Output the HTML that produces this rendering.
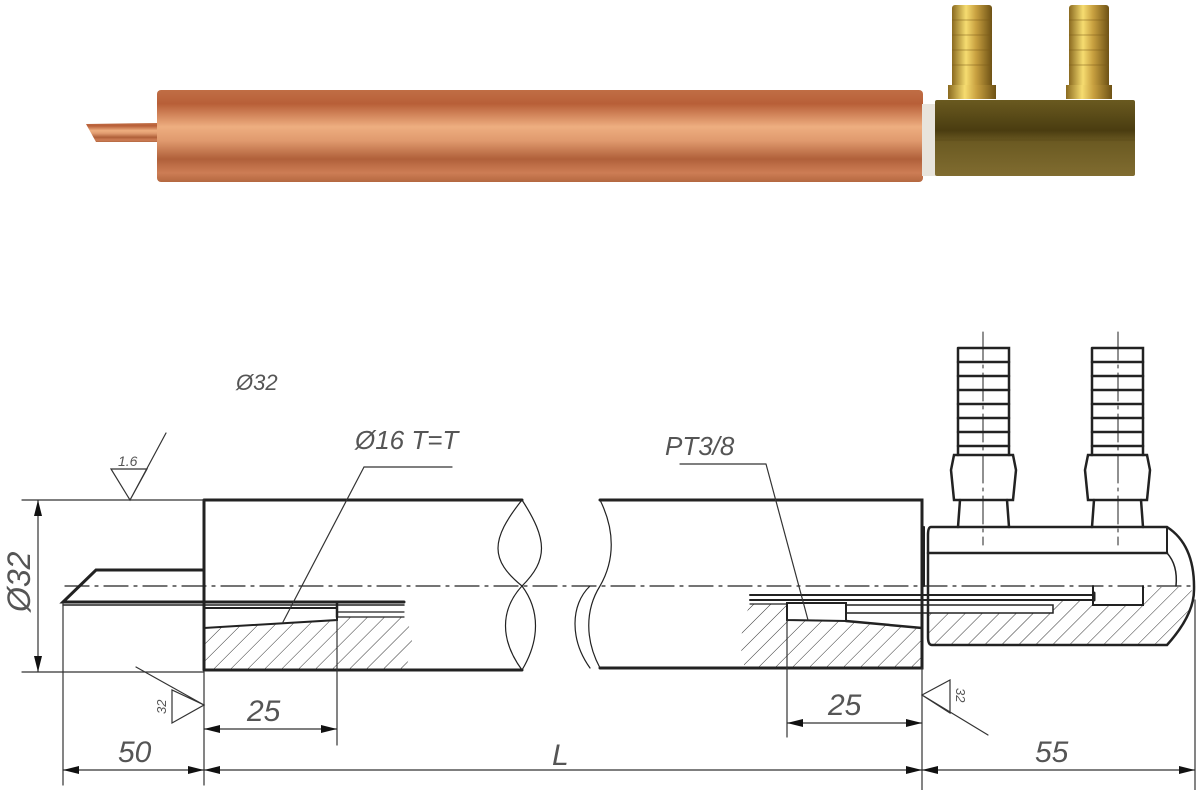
<!DOCTYPE html>
<html><head><meta charset="utf-8"><style>
html,body{margin:0;padding:0;background:#fff;}
svg{display:block;}
text{font-family:"Liberation Sans",sans-serif;font-style:italic;fill:#555;}
</style></head><body>
<svg width="1200" height="790" viewBox="0 0 1200 790" xmlns="http://www.w3.org/2000/svg">
<defs>
<linearGradient id="cu" x1="0" y1="0" x2="0" y2="1">
<stop offset="0" stop-color="#c06e45"/><stop offset="0.15" stop-color="#b85f38"/>
<stop offset="0.4" stop-color="#eeae80"/><stop offset="0.55" stop-color="#e09a6e"/>
<stop offset="0.75" stop-color="#b0603a"/><stop offset="0.9" stop-color="#cd7d55"/><stop offset="1" stop-color="#b46840"/>
</linearGradient>
<linearGradient id="br" x1="0" y1="0" x2="0" y2="1">
<stop offset="0" stop-color="#6a5a20"/><stop offset="0.4" stop-color="#4a3c10"/>
<stop offset="0.55" stop-color="#6b5a22"/><stop offset="1" stop-color="#806c30"/>
</linearGradient>
<linearGradient id="ft" x1="0" y1="0" x2="1" y2="0">
<stop offset="0" stop-color="#8a6a20"/><stop offset="0.35" stop-color="#f6dc70"/>
<stop offset="0.6" stop-color="#c8a040"/><stop offset="1" stop-color="#6e5215"/>
</linearGradient>
<pattern id="h" patternUnits="userSpaceOnUse" width="12" height="12" patternTransform="rotate(45)">
<line x1="0" y1="0" x2="0" y2="12" stroke="#333" stroke-width="1"/>
</pattern>
</defs>

<!-- Photo -->
<path d="M86,124 L158,123 L158,142 L96,142 Z" fill="url(#cu)"/>
<rect x="157" y="90" width="766" height="92" rx="4" fill="url(#cu)"/>
<rect x="922" y="104" width="14" height="72" fill="#e8e4dc"/>
<rect x="952" y="5" width="40" height="85" rx="3" fill="url(#ft)"/>
<rect x="948" y="85" width="48" height="14" fill="url(#ft)"/>
<rect x="1069" y="5" width="40" height="85" rx="3" fill="url(#ft)"/>
<rect x="1066" y="85" width="46" height="14" fill="url(#ft)"/>
<g stroke="#7a5a18" stroke-width="1" opacity="0.5">
<path d="M952,20 H992 M952,35 H992 M952,50 H992 M952,65 H992 M1069,20 H1109 M1069,35 H1109 M1069,50 H1109 M1069,65 H1109"/>
</g>
<rect x="935" y="100" width="200" height="76" rx="2" fill="url(#br)"/>
<line x1="935" y1="140" x2="1135" y2="140" stroke="#5a4a18" stroke-width="1" opacity="0.6"/>

<!-- Drawing -->
<g fill="none" stroke="#222" stroke-linecap="round">
<path d="M204,628 L337,620 L337,617 L404,617 Q420,640 404,670 L204,670 Z" fill="url(#h)" stroke="none"/>
<path d="M750,604 L787,604 L787,620 L846,621 L922,628 L922,668 L745,668 Q735,640 750,604 Z" fill="url(#h)" stroke="none"/>
<path d="M929,613 L1053,613 L1053,600 L1093,600 L1093,605 L1143,605 L1143,587 L1192,587 L1190,620 L1167,645 L929,645 Z" fill="url(#h)" stroke="none"/>

<path d="M204,500 L522,500 M204,670 L522,670 M204,500 L204,670" stroke-width="3"/>
<path d="M522,500 C490,540 490,560 522,586 C540,610 540,640 522,670" stroke-width="1.2"/>
<path d="M522,500 C548,540 548,560 522,586 C500,610 500,640 522,670" stroke-width="1.2"/>
<path d="M600,500 L922,500 L922,668 L600,668" stroke-width="3"/>
<path d="M600,500 C615,530 615,560 600,586 C585,610 585,640 600,668" stroke-width="1.2"/>
<path d="M590,586 C570,605 570,640 590,668" stroke-width="1.2"/>
<path d="M203,570 L96,570 L63,602 L404,602" stroke-width="3"/>
<line x1="63" y1="605" x2="404" y2="605" stroke-width="1.5"/>
<line x1="204" y1="570" x2="204" y2="605" stroke-width="3"/>
<path d="M204,608 L337,608 L337,620 L204,628" stroke-width="2"/>
<path d="M337,612 L404,612 M337,617 L404,617" stroke-width="1.2"/>
<path d="M337,603 L337,617" stroke-width="2.5"/>
<path d="M750,595 L1094,595 M750,600 L1094,600" stroke-width="2"/>
<path d="M750,604 L787,604" stroke-width="1.2"/>
<path d="M787,603 L787,620 L846,621 L846,603 Z" stroke-width="2"/>
<path d="M846,605 L1053,605 L1053,613 L846,613" stroke-width="1.5"/>
<path d="M846,621 L922,628" stroke-width="2.5"/>
<path d="M931,527 L1167,527 Q1195,545 1194,590 Q1194,615 1167,645 L932,645 Q928,645 928,637 L928,535 Q928,527 931,527 Z" stroke-width="2.5"/>
<line x1="928" y1="553" x2="1167" y2="553" stroke-width="2.5"/>
<line x1="1167" y1="527" x2="1167" y2="553" stroke-width="2"/>
<path d="M1167,553 Q1178,565 1176,586" stroke-width="1.5"/>
<path d="M1093,586 L1093,605 L1143,605 L1143,586" stroke-width="2"/>
<line x1="1094" y1="593" x2="1094" y2="600" stroke-width="3"/>
<line x1="924" y1="527" x2="924" y2="586" stroke-width="2"/>
<g stroke-width="2.5">
<path d="M958,348 L1009,348 L1009,455 M958,348 L958,455"/>
<path d="M958,362 L1009,362 M958,376 L1009,376 M958,390 L1009,390 M958,404 L1009,404 M958,418 L1009,418 M958,432 L1009,432 M958,446 L1009,446"/>
<path d="M954,455 L1013,455 L1016,470 L1013,500 L954,500 L951,470 Z"/>
<path d="M960,500 L958,527 M1007,500 L1009,527"/>
<path d="M1092,348 L1143,348 L1143,455 M1092,348 L1092,455"/>
<path d="M1092,362 L1143,362 M1092,376 L1143,376 M1092,390 L1143,390 M1092,404 L1143,404 M1092,418 L1143,418 M1092,432 L1143,432 M1092,446 L1143,446"/>
<path d="M1088,455 L1147,455 L1150,470 L1147,500 L1088,500 L1085,470 Z"/>
<path d="M1094,500 L1092,527 M1141,500 L1143,527"/>
</g>
<path d="M983,332 L983,545 M1118,332 L1118,545" stroke-width="1" stroke-dasharray="28,5,3,5"/>
<line x1="65" y1="586" x2="1192" y2="586" stroke-width="1.2" stroke-dasharray="24,6,3,6"/>

<g stroke-width="1.2" stroke="#333">
<path d="M22,500 L204,500 M22,672 L204,672 M38,500 L38,672"/>
<path d="M63,603 L63,785 M204,672 L204,785 M922,668 L922,790 M1195,600 L1195,790"/>
<path d="M63,770 L1195,770"/>
<path d="M337,620 L337,745 M204,729 L337,729"/>
<path d="M787,620 L787,737 M787,723 L922,723"/>
<path d="M111,469 L147,469 L130,500 Z M130,500 L166,433"/>
<path d="M204,705 L172,690 L172,723 Z M204,705 L136,667"/>
<path d="M922,695 L950,680 L950,713 Z M922,695 L988,735"/>
<path d="M364,467 L452,467 M364,467 L283,622"/>
<path d="M680,464 L766,464 M766,464 L808,620"/>
</g>
<g fill="#111" stroke="none">
<path d="M38,500 L34,516 L42,516 Z M38,672 L34,656 L42,656 Z"/>
<path d="M63,770 L79,766 L79,774 Z M204,770 L188,766 L188,774 Z M204,770 L220,766 L220,774 Z M922,770 L906,766 L906,774 Z M922,770 L938,766 L938,774 Z M1195,770 L1179,766 L1179,774 Z"/>
<path d="M204,729 L220,725 L220,733 Z M337,729 L321,725 L321,733 Z"/>
<path d="M787,723 L803,719 L803,727 Z M922,723 L906,719 L906,727 Z"/>
</g>
</g>
<text x="236" y="390" font-size="22">Ø32</text>
<text x="118" y="466" font-size="14">1.6</text>
<text x="355" y="449" font-size="26">Ø16 T=T</text>
<text x="665" y="455" font-size="26">PT3/8</text>
<text x="247" y="721" font-size="30">25</text>
<text x="828" y="715" font-size="30">25</text>
<text x="118" y="762" font-size="30">50</text>
<text x="552" y="765" font-size="30">L</text>
<text x="1035" y="762" font-size="30">55</text>
<text x="0" y="0" font-size="32" transform="translate(30,612) rotate(-90)">Ø32</text>
<text x="0" y="0" font-size="13" transform="translate(166,714) rotate(-90)">32</text>
<text x="0" y="0" font-size="13" transform="translate(956,688) rotate(90)">32</text>
</svg>
</body></html>
